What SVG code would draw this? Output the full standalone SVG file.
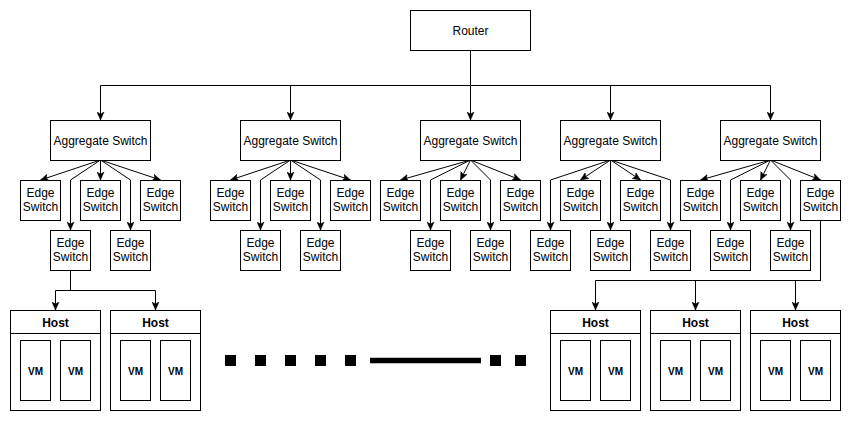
<svg xmlns="http://www.w3.org/2000/svg" width="851" height="421" viewBox="0 0 851 421">
<defs>
<style>
.b{fill:#fff;stroke:#000;stroke-width:1}
.t{font-family:"Liberation Sans",Arial,Helvetica,sans-serif;font-size:12px;fill:#000;text-anchor:middle}
.h{font-weight:bold}
.vm{font-size:10px;font-weight:bold}
.c{fill:none;stroke:#000;stroke-width:1}
.a{marker-end:url(#arr)}
</style>
<marker id="arr" markerUnits="userSpaceOnUse" markerWidth="9" markerHeight="8" refX="8" refY="4" orient="auto" viewBox="0 0 9 8">
<path d="M0,0.5 L8,4 L0,7.5 L2,4 Z" fill="#000" stroke="#000" stroke-width="0.5"/>
</marker>
</defs>
<rect width="851" height="421" fill="#fff"/>

<g id="connectors">
<path class="c a" d="M470.5,50 V85.5 H100.5 V120"/>
<path class="c a" d="M470.5,50 V85.5 H290.5 V120"/>
<path class="c a" d="M470.5,50 V120"/>
<path class="c a" d="M470.5,50 V85.5 H610.5 V120"/>
<path class="c a" d="M470.5,50 V85.5 H770.5 V120"/>

<path class="c a" d="M100.5,160 L40.5,180"/>
<path class="c a" d="M100.5,160 L70.5,180 V230"/>
<path class="c a" d="M100.5,160 V180"/>
<path class="c a" d="M100.5,160 L130.5,180 V230"/>
<path class="c a" d="M100.5,160 L160.5,180"/>

<path class="c a" d="M290.5,160 L230.5,180"/>
<path class="c a" d="M290.5,160 L260.5,180 V230"/>
<path class="c a" d="M290.5,160 V180"/>
<path class="c a" d="M290.5,160 L320.5,180 V230"/>
<path class="c a" d="M290.5,160 L350.5,180"/>

<path class="c a" d="M470.5,160 L400.5,180"/>
<path class="c a" d="M470.5,160 L430.5,180 V230"/>
<path class="c a" d="M470.5,160 L460.5,180"/>
<path class="c a" d="M470.5,160 L490.5,180 V230"/>
<path class="c a" d="M470.5,160 L520.5,180"/>

<path class="c a" d="M610.5,160 L550.5,180 V230"/>
<path class="c a" d="M610.5,160 L580.5,180"/>
<path class="c a" d="M610.5,160 V230"/>
<path class="c a" d="M610.5,160 L640.5,180"/>
<path class="c a" d="M610.5,160 L670.5,180 V230"/>

<path class="c a" d="M770.5,160 L700.5,180"/>
<path class="c a" d="M770.5,160 L730.5,180 V230"/>
<path class="c a" d="M770.5,160 L760.5,180"/>
<path class="c a" d="M770.5,160 L790.5,180 V230"/>
<path class="c a" d="M770.5,160 L820.5,180"/>

<path class="c a" d="M70.5,270 V290.5 H55.5 V310"/>
<path class="c a" d="M70.5,270 V290.5 H155.5 V310"/>

<path class="c a" d="M820.5,220 V280.5 H595.5 V310"/>
<path class="c a" d="M820.5,220 V280.5 H695.5 V310"/>
<path class="c a" d="M820.5,220 V280.5 H795.5 V310"/>
</g>

<g id="router"><rect class="b" x="410.5" y="10.5" width="120" height="40"/><text class="t" x="470.5" y="34.5">Router</text></g>

<g id="agg1"><rect class="b" x="50.5" y="120.5" width="100" height="40"/><text class="t" x="100.5" y="144.5">Aggregate Switch</text></g>
<g id="agg2"><rect class="b" x="240.5" y="120.5" width="100" height="40"/><text class="t" x="290.5" y="144.5">Aggregate Switch</text></g>
<g id="agg3"><rect class="b" x="420.5" y="120.5" width="100" height="40"/><text class="t" x="470.5" y="144.5">Aggregate Switch</text></g>
<g id="agg4"><rect class="b" x="560.5" y="120.5" width="100" height="40"/><text class="t" x="610.5" y="144.5">Aggregate Switch</text></g>
<g id="agg5"><rect class="b" x="720.5" y="120.5" width="100" height="40"/><text class="t" x="770.5" y="144.5">Aggregate Switch</text></g>

<!-- cluster 1 -->
<g id="e1a"><rect class="b" x="20.5" y="180.5" width="40" height="40"/><text class="t" x="40.5" y="197"><tspan x="40.5">Edge</tspan><tspan x="40.5" dy="14.4">Switch</tspan></text></g>
<g id="e1b"><rect class="b" x="80.5" y="180.5" width="40" height="40"/><text class="t" x="100.5" y="197"><tspan x="100.5">Edge</tspan><tspan x="100.5" dy="14.4">Switch</tspan></text></g>
<g id="e1c"><rect class="b" x="140.5" y="180.5" width="40" height="40"/><text class="t" x="160.5" y="197"><tspan x="160.5">Edge</tspan><tspan x="160.5" dy="14.4">Switch</tspan></text></g>
<g id="e1d"><rect class="b" x="50.5" y="230.5" width="40" height="40"/><text class="t" x="70.5" y="247"><tspan x="70.5">Edge</tspan><tspan x="70.5" dy="14.4">Switch</tspan></text></g>
<g id="e1e"><rect class="b" x="110.5" y="230.5" width="40" height="40"/><text class="t" x="130.5" y="247"><tspan x="130.5">Edge</tspan><tspan x="130.5" dy="14.4">Switch</tspan></text></g>

<!-- cluster 2 -->
<g id="e2a"><rect class="b" x="210.5" y="180.5" width="40" height="40"/><text class="t" y="197"><tspan x="230.5">Edge</tspan><tspan x="230.5" dy="14.4">Switch</tspan></text></g>
<g id="e2b"><rect class="b" x="270.5" y="180.5" width="40" height="40"/><text class="t" y="197"><tspan x="290.5">Edge</tspan><tspan x="290.5" dy="14.4">Switch</tspan></text></g>
<g id="e2c"><rect class="b" x="330.5" y="180.5" width="40" height="40"/><text class="t" y="197"><tspan x="350.5">Edge</tspan><tspan x="350.5" dy="14.4">Switch</tspan></text></g>
<g id="e2d"><rect class="b" x="240.5" y="230.5" width="40" height="40"/><text class="t" y="247"><tspan x="260.5">Edge</tspan><tspan x="260.5" dy="14.4">Switch</tspan></text></g>
<g id="e2e"><rect class="b" x="300.5" y="230.5" width="40" height="40"/><text class="t" y="247"><tspan x="320.5">Edge</tspan><tspan x="320.5" dy="14.4">Switch</tspan></text></g>

<!-- cluster 3 -->
<g id="e3a"><rect class="b" x="380.5" y="180.5" width="40" height="40"/><text class="t" y="197"><tspan x="400.5">Edge</tspan><tspan x="400.5" dy="14.4">Switch</tspan></text></g>
<g id="e3b"><rect class="b" x="440.5" y="180.5" width="40" height="40"/><text class="t" y="197"><tspan x="460.5">Edge</tspan><tspan x="460.5" dy="14.4">Switch</tspan></text></g>
<g id="e3c"><rect class="b" x="500.5" y="180.5" width="40" height="40"/><text class="t" y="197"><tspan x="520.5">Edge</tspan><tspan x="520.5" dy="14.4">Switch</tspan></text></g>
<g id="e3d"><rect class="b" x="410.5" y="230.5" width="40" height="40"/><text class="t" y="247"><tspan x="430.5">Edge</tspan><tspan x="430.5" dy="14.4">Switch</tspan></text></g>
<g id="e3e"><rect class="b" x="470.5" y="230.5" width="40" height="40"/><text class="t" y="247"><tspan x="490.5">Edge</tspan><tspan x="490.5" dy="14.4">Switch</tspan></text></g>

<!-- cluster 4 -->
<g id="e4a"><rect class="b" x="560.5" y="180.5" width="40" height="40"/><text class="t" y="197"><tspan x="580.5">Edge</tspan><tspan x="580.5" dy="14.4">Switch</tspan></text></g>
<g id="e4b"><rect class="b" x="620.5" y="180.5" width="40" height="40"/><text class="t" y="197"><tspan x="640.5">Edge</tspan><tspan x="640.5" dy="14.4">Switch</tspan></text></g>
<g id="e4c"><rect class="b" x="530.5" y="230.5" width="40" height="40"/><text class="t" y="247"><tspan x="550.5">Edge</tspan><tspan x="550.5" dy="14.4">Switch</tspan></text></g>
<g id="e4d"><rect class="b" x="590.5" y="230.5" width="40" height="40"/><text class="t" y="247"><tspan x="610.5">Edge</tspan><tspan x="610.5" dy="14.4">Switch</tspan></text></g>
<g id="e4e"><rect class="b" x="650.5" y="230.5" width="40" height="40"/><text class="t" y="247"><tspan x="670.5">Edge</tspan><tspan x="670.5" dy="14.4">Switch</tspan></text></g>

<!-- cluster 5 -->
<g id="e5a"><rect class="b" x="680.5" y="180.5" width="40" height="40"/><text class="t" y="197"><tspan x="700.5">Edge</tspan><tspan x="700.5" dy="14.4">Switch</tspan></text></g>
<g id="e5b"><rect class="b" x="740.5" y="180.5" width="40" height="40"/><text class="t" y="197"><tspan x="760.5">Edge</tspan><tspan x="760.5" dy="14.4">Switch</tspan></text></g>
<g id="e5c"><rect class="b" x="800.5" y="180.5" width="40" height="40"/><text class="t" y="197"><tspan x="820.5">Edge</tspan><tspan x="820.5" dy="14.4">Switch</tspan></text></g>
<g id="e5d"><rect class="b" x="710.5" y="230.5" width="40" height="40"/><text class="t" y="247"><tspan x="730.5">Edge</tspan><tspan x="730.5" dy="14.4">Switch</tspan></text></g>
<g id="e5e"><rect class="b" x="770.5" y="230.5" width="40" height="40"/><text class="t" y="247"><tspan x="790.5">Edge</tspan><tspan x="790.5" dy="14.4">Switch</tspan></text></g>

<!-- hosts -->
<g id="host1"><rect class="b" x="10.5" y="310.5" width="90" height="100"/><line class="c" x1="10.5" y1="333.5" x2="100.5" y2="333.5"/><text class="t h" x="55.5" y="326.5">Host</text>
<rect class="b" x="20.5" y="340.5" width="30" height="60"/><text class="t vm" x="35.5" y="374.5">VM</text>
<rect class="b" x="60.5" y="340.5" width="30" height="60"/><text class="t vm" x="75.5" y="374.5">VM</text></g>
<g id="host2"><rect class="b" x="110.5" y="310.5" width="90" height="100"/><line class="c" x1="110.5" y1="333.5" x2="200.5" y2="333.5"/><text class="t h" x="155.5" y="326.5">Host</text>
<rect class="b" x="120.5" y="340.5" width="30" height="60"/><text class="t vm" x="135.5" y="374.5">VM</text>
<rect class="b" x="160.5" y="340.5" width="30" height="60"/><text class="t vm" x="175.5" y="374.5">VM</text></g>
<g id="host3"><rect class="b" x="550.5" y="310.5" width="90" height="100"/><line class="c" x1="550.5" y1="333.5" x2="640.5" y2="333.5"/><text class="t h" x="595.5" y="326.5">Host</text>
<rect class="b" x="560.5" y="340.5" width="30" height="60"/><text class="t vm" x="575.5" y="374.5">VM</text>
<rect class="b" x="600.5" y="340.5" width="30" height="60"/><text class="t vm" x="615.5" y="374.5">VM</text></g>
<g id="host4"><rect class="b" x="650.5" y="310.5" width="90" height="100"/><line class="c" x1="650.5" y1="333.5" x2="740.5" y2="333.5"/><text class="t h" x="695.5" y="326.5">Host</text>
<rect class="b" x="660.5" y="340.5" width="30" height="60"/><text class="t vm" x="675.5" y="374.5">VM</text>
<rect class="b" x="700.5" y="340.5" width="30" height="60"/><text class="t vm" x="715.5" y="374.5">VM</text></g>
<g id="host5"><rect class="b" x="750.5" y="310.5" width="90" height="100"/><line class="c" x1="750.5" y1="333.5" x2="840.5" y2="333.5"/><text class="t h" x="795.5" y="326.5">Host</text>
<rect class="b" x="760.5" y="340.5" width="30" height="60"/><text class="t vm" x="775.5" y="374.5">VM</text>
<rect class="b" x="800.5" y="340.5" width="30" height="60"/><text class="t vm" x="815.5" y="374.5">VM</text></g>

<g id="ellipsis" fill="#000">
<rect x="225" y="355" width="11" height="11"/>
<rect x="255" y="355" width="11" height="11"/>
<rect x="285" y="355" width="11" height="11"/>
<rect x="315" y="355" width="11" height="11"/>
<rect x="345" y="355" width="11" height="11"/>
<line x1="370" y1="360.5" x2="481" y2="360.5" stroke="#000" stroke-width="5.6"/>
<rect x="490" y="355" width="11" height="11"/>
<rect x="515" y="355" width="11" height="11"/>
</g>
</svg>
